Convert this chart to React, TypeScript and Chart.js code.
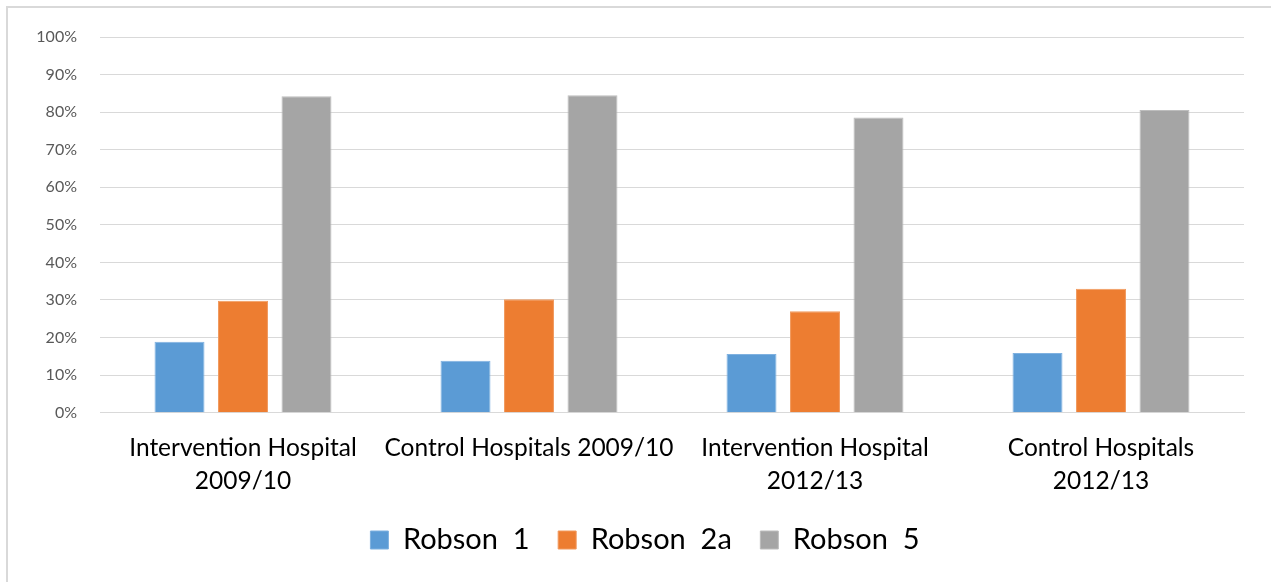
import { useEffect, useRef } from "react";
import { Chart, registerables } from "chart.js";

Chart.register(...registerables);

const categories: string[][] = [
  ["Intervention Hospital", "2009/10"],
  ["Control Hospitals 2009/10"],
  ["Intervention Hospital", "2012/13"],
  ["Control Hospitals", "2012/13"],
];
const seriesNames = ["Robson  1", "Robson  2a", "Robson  5"];
const robson1 = [18.9, 13.8, 15.6, 15.9];
const robson2a = [29.8, 30.2, 27.0, 33.0];
const robson5 = [84.2, 84.5, 78.6, 80.6];
const seriesColors = ["#5B9BD5", "#ED7D31", "#A5A5A5"];
const seriesBorders = ["#7FB1E0", "#F19A5E", "#BDBDBD"];
const yMin = 0;
const yMax = 100;
const yStep = 10;

const legendShift = {
  id: "legendShift",
  afterLayout(chart: any) {
    const lg = chart.legend;
    if (lg) {
      lg.left += 23;
      lg.right += 23;
    }
  },
};

export default function App() {
  const canvasRef = useRef<HTMLCanvasElement | null>(null);

  useEffect(() => {
    document.body.style.margin = "0";
    document.body.style.overflow = "hidden";
    const canvas = canvasRef.current;
    if (!canvas) return;
    const series = [robson1, robson2a, robson5];
    const chart = new Chart(canvas, {
      type: "bar",
      data: {
        labels: categories,
        datasets: series.map((values, i) => ({
          label: seriesNames[i],
          data: values,
          backgroundColor: seriesColors[i],
          borderColor: seriesBorders[i],
          borderWidth: 1,
          categoryPercentage: 0.666,
          barPercentage: 0.787,
        })),
      },
      options: {
        responsive: false,
        animation: false,
        layout: { padding: { left: 0, right: 27, top: 37, bottom: 17.5 } },
        plugins: {
          tooltip: { enabled: false },
          legend: {
            position: "bottom",
            labels: {
              boxWidth: 18,
              boxHeight: 18,
              padding: 28.5,
              color: "#000000",
              font: { family: "Lato", size: 29 },
            },
          },
        },
        scales: {
          x: {
            grid: { display: false, drawTicks: false },
            border: { display: true, color: "#D9D9D9", width: 1 },
            ticks: {
              color: "#000000",
              font: { family: "Lato", size: 24.5, lineHeight: 1.347 },
              padding: 19,
              autoSkip: false,
              maxRotation: 0,
              minRotation: 0,
            },
            afterFit: (scale: any) => {
              scale.height = 84.3;
            },
          },
          y: {
            min: yMin,
            max: yMax,
            grid: { color: "#D9D9D9", lineWidth: 1, drawTicks: false },
            border: { display: false },
            ticks: {
              stepSize: yStep,
              color: "#595959",
              font: { family: "Lato", size: 16 },
              padding: 23,
              callback: (v: any) => `${v}%`,
            },
            afterFit: (scale: any) => {
              scale.width = 100;
            },
          },
        },
      },
      plugins: [legendShift],
    });
    return () => chart.destroy();
  }, []);

  return (
    <div style={{ position: "relative", width: 1271, height: 582, overflow: "hidden", background: "#fff" }}>
      <canvas ref={canvasRef} width={1271} height={582} style={{ position: "absolute", left: 0, top: 0, width: 1271, height: 582 }} />
      <div
        style={{
          position: "absolute",
          left: 6,
          top: 6,
          width: 2000,
          height: 2000,
          borderTop: "2px solid #D9D9D9",
          borderLeft: "2px solid #D9D9D9",
          pointerEvents: "none",
        }}
      />
    </div>
  );
}
